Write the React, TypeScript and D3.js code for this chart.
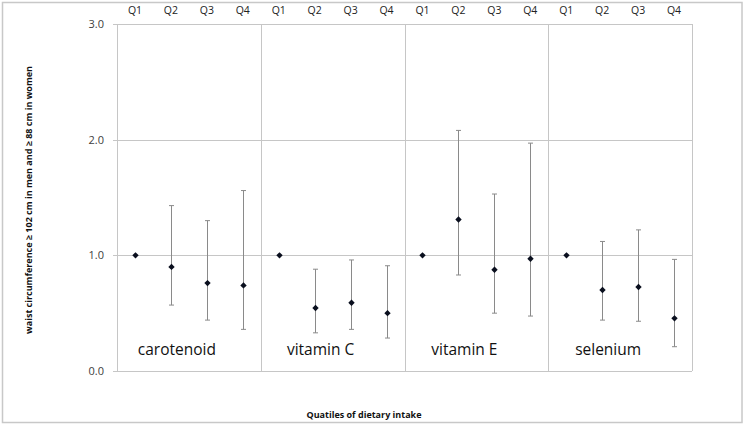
import React from "react";
import * as d3 from "d3";

const groups = ["carotenoid", "vitamin C", "vitamin E", "selenium"];
const quartiles = ["Q1", "Q2", "Q3", "Q4"];
const yTicks = [0, 1, 2, 3];

// point estimate, lower CI, upper CI per group (Q1..Q4)
const estimates = [
  [1.0, 0.9, 0.76, 0.74],
  [1.0, 0.545, 0.59, 0.5],
  [1.0, 1.31, 0.875, 0.97],
  [1.0, 0.7, 0.726, 0.455],
];
const lowers = [
  [null, 0.57, 0.44, 0.36],
  [null, 0.33, 0.36, 0.285],
  [null, 0.83, 0.5, 0.475],
  [null, 0.44, 0.43, 0.21],
];
const uppers = [
  [null, 1.43, 1.3, 1.56],
  [null, 0.88, 0.96, 0.91],
  [null, 2.08, 1.53, 1.97],
  [null, 1.12, 1.22, 0.965],
];

const yTitle = "waist circumference ≥ 102 cm in men and ≥ 88 cm in women";
const xTitle = "Quatiles of dietary intake";

export default function App() {
  const W = 747, H = 440;
  const left = 117, right = 692, top = 24, bottom = 371;
  const cats = groups.flatMap((g, gi) => quartiles.map((q, qi) => `${gi}-${qi}`));
  const x = d3.scaleBand<string>().domain(cats).range([left, right]).paddingInner(0).paddingOuter(0);
  const y = d3.scaleLinear().domain([0, 3]).range([bottom, top]);
  const step = x.step();
  const font = "'Open Sans', sans-serif";
  const r = 3.2;
  const diamond = `M0,${-r}L${r},0L0,${r}L${-r},0Z`;

  return (
    <svg width={W} height={H} style={{ position: "absolute", left: 0, top: 0 }}>
      <rect x={0} y={0} width={W} height={H} fill="#fff" />
      <rect x={2.5} y={2.5} width={739.5} height={420} fill="none" stroke="#c8c8c8" strokeWidth={1.5} />
      {/* horizontal grid */}
      {yTicks.map((t) => (
        <g key={t}>
          <line x1={left - 4} x2={right} y1={Math.round(y(t)) + 0.5} y2={Math.round(y(t)) + 0.5} stroke="#c6c6c6" />
          <text x={104} y={y(t) + 4} textAnchor="end" fontFamily={font} fontSize={11} fill="#404040">
            {d3.format(".1f")(t)}
          </text>
        </g>
      ))}
      {/* group dividers */}
      {d3.range(groups.length + 1).map((i) => {
        const xv = Math.round(left + i * 4 * step) + 0.5;
        return <line key={i} x1={xv} x2={xv} y1={y(3)} y2={y(0)} stroke="#c6c6c6" />;
      })}
      {/* top quartile labels */}
      {cats.map((c) => {
        const qi = +c.split("-")[1];
        return (
          <text key={c} x={x(c)! + step / 2} y={14} textAnchor="middle" fontFamily={font} fontSize={10.5} fill="#222">
            {quartiles[qi]}
          </text>
        );
      })}
      {/* error bars and points */}
      {groups.map((g, gi) =>
        quartiles.map((q, qi) => {
          const cx = x(`${gi}-${qi}`)! + step / 2;
          const lo = lowers[gi][qi];
          const hi = uppers[gi][qi];
          const xr = Math.round(cx) + 0.5;
          return (
            <g key={`${gi}-${qi}`}>
              {lo != null && hi != null && (
                <g stroke="#8a8a8a" strokeWidth={1}>
                  <line x1={xr} x2={xr} y1={y(hi)} y2={y(lo)} />
                  <line x1={xr - 2.5} x2={xr + 2.5} y1={y(hi)} y2={y(hi)} />
                  <line x1={xr - 2.5} x2={xr + 2.5} y1={y(lo)} y2={y(lo)} />
                </g>
              )}
              <path d={diamond} transform={`translate(${xr},${y(estimates[gi][qi])})`} fill="#0a0f1e" />
            </g>
          );
        })
      )}
      {/* group labels */}
      {groups.map((g, gi) => (
        <text
          key={g}
          x={left + (gi + 0.5) * 4 * step - 12}
          y={355}
          textAnchor="middle"
          fontFamily={font}
          fontSize={15.5}
          fill="#111"
        >
          {g}
        </text>
      ))}
      <text
        transform={`translate(32,200) rotate(-90)`}
        textAnchor="middle"
        fontFamily={font}
        fontSize={9}
        fontWeight="bold"
        fill="#111"
      >
        {yTitle}
      </text>
      <text x={364} y={418} textAnchor="middle" fontFamily={font} fontSize={9} fontWeight="bold" fill="#111">
        {xTitle}
      </text>
    </svg>
  );
}
